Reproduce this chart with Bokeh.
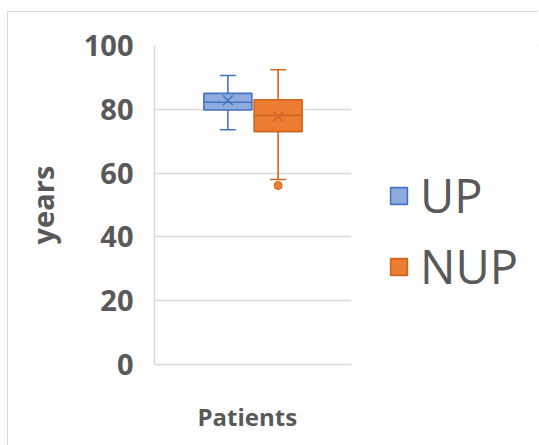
from bokeh.plotting import figure
from bokeh.layouts import row
from bokeh.models import (ColumnDataSource, FactorRange, Legend, LegendItem,
                          FixedTicker, Title, Range1d)
from bokeh.embed import file_html
from bokeh.resources import INLINE

# Box-plot statistics per patient group (age in years)
groups = ["UP", "NUP"]
lower_whisker = [73.6, 58.0]
q1 = [79.8, 73.0]
median = [82.2, 78.1]
q3 = [85.0, 83.0]
upper_whisker = [90.6, 92.4]
mean = [82.8, 77.7]
outlier_group = ["NUP"]
outlier_value = [56.1]

y_ticks = [0, 20, 40, 60, 80, 100]

fills = ["#8faadc", "#ed7d31"]
edges = ["#4472c4", "#d0661f"]

src = ColumnDataSource(dict(
    g=groups, lo=lower_whisker, q1=q1, med=median, q3=q3, hi=upper_whisker,
    mean=mean, fill=fills, edge=edges,
))

gray_line = "#d9d9d9"
text_gray = "#595959"

p = figure(
    width=363, height=434,
    x_range=FactorRange(*groups, range_padding=0.96, range_padding_units="absolute"),
    y_range=(0, 100),
    output_backend="svg", toolbar_location=None,
    min_border_left=146, min_border_right=20,
    min_border_top=33, min_border_bottom=82,
    background_fill_color="white", border_fill_color="white",
    outline_line_color=None,
)

# Whiskers and caps
p.segment("g", "lo", "g", "q1", source=src, line_color="edge", line_width=1.6)
p.segment("g", "q3", "g", "hi", source=src, line_color="edge", line_width=1.6)
p.rect("g", "lo", width=0.3, height=0.0001, source=src, line_color="edge",
       fill_color=None, line_width=1.6)
p.rect("g", "hi", width=0.3, height=0.0001, source=src, line_color="edge",
       fill_color=None, line_width=1.6)

# Boxes with median lines
p.vbar(x="g", bottom="q1", top="q3", width=0.955, source=src,
       fill_color="fill", line_color="edge", line_width=1.6)
p.rect("g", "med", width=0.955, height=0.0001, source=src, line_color="edge",
       fill_color=None, line_width=1.6)

# Means
p.scatter("g", "mean", source=src, marker="x", size=14, line_color="edge",
          line_width=1.4)

# Outliers
p.scatter(outlier_group, outlier_value, marker="circle", size=8,
          fill_color=fills[1], line_color=edges[1])

# Axes
p.yaxis.ticker = FixedTicker(ticks=y_ticks)
p.yaxis.major_tick_line_color = None
p.yaxis.minor_tick_line_color = None
p.yaxis.axis_line_color = gray_line
p.yaxis.axis_line_width = 1.5
p.yaxis.major_label_text_font = "Open Sans"
p.yaxis.major_label_text_font_style = "bold"
p.yaxis.major_label_text_font_size = "29px"
p.yaxis.major_label_text_color = text_gray
p.yaxis.major_label_standoff = 15
p.yaxis.axis_label = "years"
p.yaxis.axis_label_text_font = "Open Sans"
p.yaxis.axis_label_text_font_style = "bold"
p.yaxis.axis_label_text_font_size = "29px"
p.yaxis.axis_label_text_color = text_gray
p.yaxis.axis_label_standoff = 19

# Category axis: no visible ticks or tick labels, only the baseline;
# the invisible tick length reserves room above the "Patients" caption.
p.xaxis.major_tick_line_color = None
p.xaxis.minor_tick_line_color = None
p.xaxis.major_tick_in = 0
p.xaxis.major_tick_out = 31
p.xaxis.major_label_text_color = None
p.xaxis.major_label_text_font_size = "1px"
p.xaxis.axis_line_color = gray_line
p.xaxis.axis_line_width = 1.5

p.add_layout(Title(text="Patients", align="left", offset=43,
                   text_font="Open Sans", text_font_style="bold",
                   text_font_size="24px", text_color=text_gray,
                   standoff=5), "below")

p.xgrid.grid_line_color = None
p.ygrid.grid_line_color = gray_line
p.ygrid.grid_line_width = 1.5

# Legend panel beside the plot
lg = figure(
    width=167, height=434, x_range=Range1d(0, 1), y_range=Range1d(0, 1),
    output_backend="svg", toolbar_location=None,
    min_border=0, outline_line_color=None,
    background_fill_color="white", border_fill_color="white",
)
lg.axis.visible = False
lg.grid.visible = False
swatches = [lg.vbar(x=[5], bottom=[5], top=[6], width=1, fill_color=f,
                    line_color=e, line_width=1.6)
            for f, e in zip(fills, edges)]
legend = Legend(
    items=[LegendItem(label=g, renderers=[r]) for g, r in zip(groups, swatches)],
    location=(17, 66),
    glyph_width=21, glyph_height=21,
    label_text_font="Open Sans", label_text_font_size="47px",
    label_text_color=text_gray, label_standoff=11, spacing=7,
    border_line_color=None, background_fill_alpha=0,
    padding=0, margin=0,
)
lg.add_layout(legend, "center")

layout = row(p, lg)
layout.margin = (11, 0, 0, 7)
layout.styles = {"border-left": f"1.5px solid {gray_line}",
                 "border-top": f"1.5px solid {gray_line}"}

open("out.html", "w").write(file_html(layout, INLINE))
